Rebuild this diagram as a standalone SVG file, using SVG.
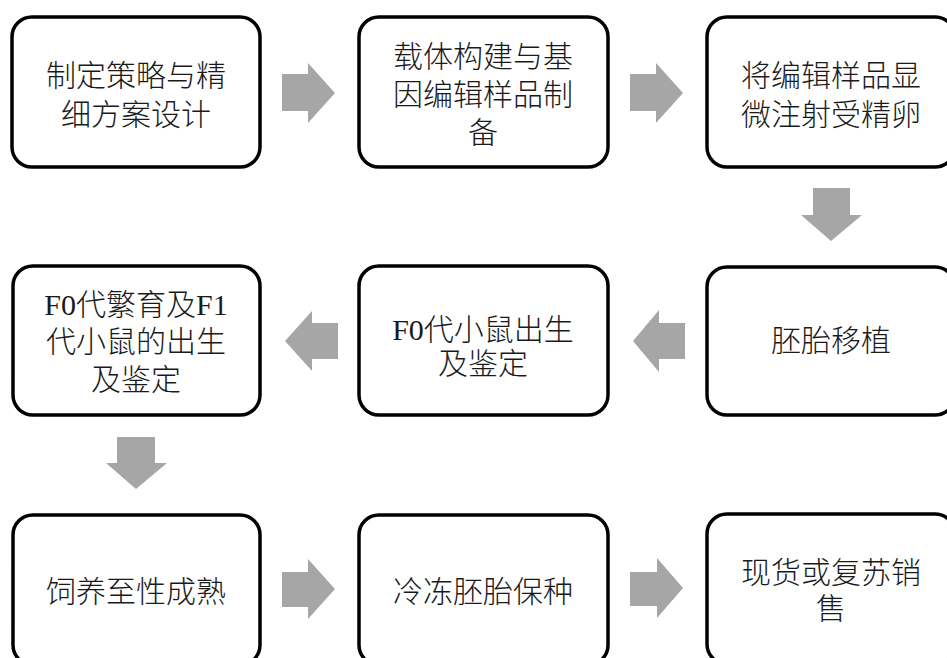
<svg xmlns="http://www.w3.org/2000/svg" width="947" height="658" viewBox="0 0 947 658">
<style>
.box{fill:#fff;stroke:#000;stroke-width:3.5}
.t{font-family:"Liberation Serif","Noto Sans CJK SC",serif;font-size:30px;font-weight:300;fill:#1a1a1a;text-anchor:middle}
.ar{fill:#a6a6a6}
</style>
<rect width="947" height="658" fill="#fff"/>
<g id="n1"><rect class="box" x="12" y="17" width="248" height="150" rx="20"/>
<text class="t" x="136" y="86">制定策略与精</text><text class="t" x="136" y="125">细方案设计</text></g>
<g id="n2"><rect class="box" x="359" y="17" width="249" height="150" rx="20"/>
<text class="t" x="483" y="67">载体构建与基</text><text class="t" x="483" y="105">因编辑样品制</text><text class="t" x="483" y="143">备</text></g>
<g id="n3"><rect class="box" x="707" y="17" width="248" height="150" rx="20"/>
<text class="t" x="831" y="86">将编辑样品显</text><text class="t" x="831" y="125">微注射受精卵</text></g>
<g id="n4"><rect class="box" x="707" y="267" width="248" height="148" rx="20"/>
<text class="t" x="831" y="351">胚胎移植</text></g>
<g id="n5"><rect class="box" x="359" y="266" width="249" height="149" rx="20"/>
<text class="t" x="483" y="340">F0代小鼠出生</text><text class="t" x="483" y="374">及鉴定</text></g>
<g id="n6"><rect class="box" x="13" y="266" width="247" height="149" rx="20"/>
<text class="t" x="136" y="315">F0代繁育及F1</text><text class="t" x="136" y="352">代小鼠的出生</text><text class="t" x="136" y="390">及鉴定</text></g>
<g id="n7"><rect class="box" x="13" y="515" width="247" height="150" rx="20"/>
<text class="t" x="136" y="602">饲养至性成熟</text></g>
<g id="n8"><rect class="box" x="359" y="515" width="249" height="150" rx="20"/>
<text class="t" x="483" y="602">冷冻胚胎保种</text></g>
<g id="n9"><rect class="box" x="707" y="514" width="248" height="150" rx="20"/>
<text class="t" x="831" y="583">现货或复苏销</text><text class="t" x="831" y="619">售</text></g>
<g id="connectors">
<polygon class="ar" points="282,74 308,74 308,63 335,93 308,123 308,111 282,111"/>
<polygon class="ar" points="630,74 656,74 656,63 683,93 656,123 656,111 630,111"/>
<polygon class="ar" points="813,188 850,188 850,215 862,215 831,241 801,215 813,215"/>
<polygon class="ar" points="685,323 659,323 659,310 633,341 659,372 659,359 685,359"/>
<polygon class="ar" points="338,323 312,323 312,311 285,341 312,371 312,359 338,359"/>
<polygon class="ar" points="117,437 155,437 155,463 167,463 136,489 106,463 117,463"/>
<polygon class="ar" points="282,572 308,572 308,559 335,589 308,619 308,607 282,607"/>
<polygon class="ar" points="630,572 657,572 657,558 683,588 657,618 657,606 630,606"/>
</g>
</svg>
